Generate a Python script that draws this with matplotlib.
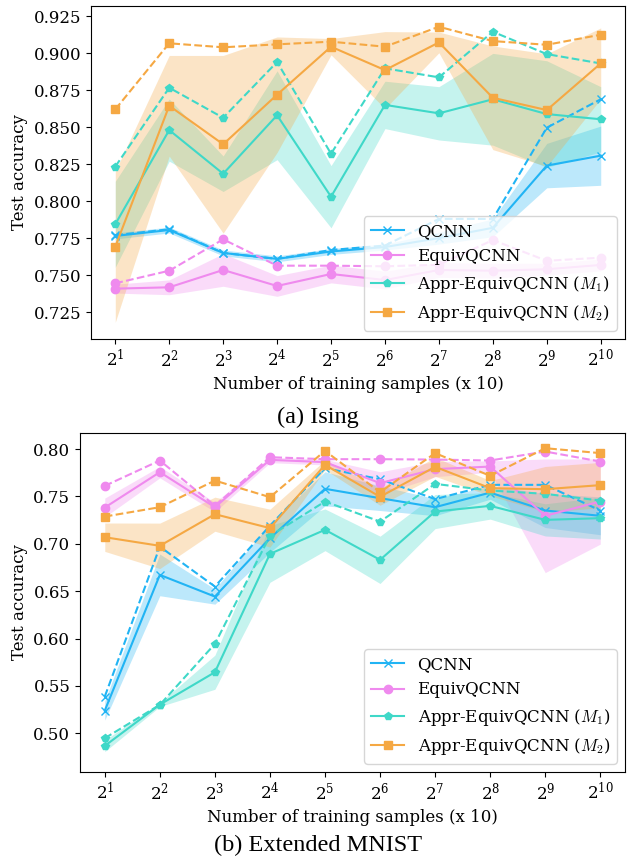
import numpy as np
import matplotlib.pyplot as plt

plt.rcParams['font.family'] = 'DejaVu Serif'
plt.rcParams['mathtext.fontset'] = 'cm'

# x axis: number of training samples / 10
x = [2, 4, 8, 16, 32, 64, 128, 256, 512, 1024]
labels = ['QCNN', 'EquivQCNN', r'Appr-EquivQCNN ($M_1$)', r'Appr-EquivQCNN ($M_2$)']
colors = ['#21b4f4', '#ef8aee', '#3fd8c8', '#f5a843']
markers = ['x', 'o', 'p', 's']

# (a) Ising: mean, std and best run
ising_mean = [
    [0.7765, 0.7805, 0.765, 0.761, 0.766, 0.769, 0.775, 0.782, 0.824, 0.8307],
    [0.7409, 0.7418, 0.7535, 0.7427, 0.7508, 0.7467, 0.7535, 0.753, 0.754, 0.7569],
    [0.7844, 0.848, 0.8185, 0.858, 0.803, 0.865, 0.8593, 0.8688, 0.8588, 0.8553],
    [0.7692, 0.8644, 0.8384, 0.8719, 0.9043, 0.8885, 0.9072, 0.8698, 0.8615, 0.893],
]
ising_std = [
    [0.002, 0.002, 0.002, 0.002, 0.002, 0.002, 0.004, 0.006, 0.015, 0.02],
    [0.003, 0.005, 0.011, 0.007, 0.006, 0.006, 0.005, 0.005, 0.004, 0.004],
    [0.029, 0.021, 0.012, 0.03, 0.021, 0.016, 0.018, 0.031, 0.036, 0.022],
    [0.051, 0.034, 0.06, 0.039, 0.0055, 0.026, 0.007, 0.035, 0.038, 0.024],
]
ising_best = [
    [0.777, 0.781, 0.765, 0.761, 0.767, 0.770, 0.788, 0.788, 0.8496, 0.8688],
    [0.7445, 0.753, 0.7742, 0.7564, 0.7564, 0.756, 0.757, 0.7737, 0.7597, 0.7618],
    [0.8233, 0.8766, 0.8563, 0.894, 0.832, 0.8897, 0.8836, 0.9144, 0.8993, 0.893],
    [0.862, 0.9066, 0.9039, 0.9059, 0.9077, 0.9043, 0.9178, 0.9081, 0.9056, 0.9124],
]

# (b) Extended MNIST
mnist_mean = [
    [0.5239, 0.6672, 0.6443, 0.706, 0.7581, 0.7482, 0.7387, 0.7541, 0.7352, 0.7296],
    [0.7383, 0.7757, 0.7387, 0.7887, 0.7863, 0.7641, 0.7789, 0.7816, 0.7296, 0.7447],
    [0.4866, 0.5302, 0.5644, 0.6894, 0.7148, 0.6831, 0.7341, 0.7401, 0.7253, 0.7271],
    [0.707, 0.6979, 0.7313, 0.7166, 0.7834, 0.7497, 0.7813, 0.7588, 0.7577, 0.762],
]
mnist_std = [
    [0.01, 0.022, 0.008, 0.015, 0.018, 0.013, 0.009, 0.007, 0.018, 0.02],
    [0.01, 0.006, 0.005, 0.003, 0.003, 0.012, 0.008, 0.006, 0.06, 0.045],
    [0.006, 0.002, 0.018, 0.03, 0.022, 0.025, 0.018, 0.014, 0.017, 0.022],
    [0.015, 0.024, 0.018, 0.02, 0.005, 0.009, 0.01, 0.008, 0.024, 0.024],
]
mnist_best = [
    [0.5387, 0.697, 0.6549, 0.7192, 0.7799, 0.7683, 0.7472, 0.7623, 0.7623, 0.7352],
    [0.7612, 0.788, 0.7401, 0.7915, 0.7894, 0.7894, 0.789, 0.788, 0.7975, 0.7869],
    [0.4947, 0.530, 0.5943, 0.7084, 0.7447, 0.7235, 0.7633, 0.7563, 0.7528, 0.7457],
    [0.7288, 0.7387, 0.7668, 0.7493, 0.7982, 0.7545, 0.7958, 0.7718, 0.801, 0.7958],
]

fig = plt.figure(figsize=(6.36, 8.56), dpi=100)
ax1 = fig.add_axes([0.1431, 0.6040, 0.8396, 0.389])
ax2 = fig.add_axes([0.1258, 0.0981, 0.857, 0.396])


def draw(ax, mean, std, best):
    for i in range(4):
        m = np.array(mean[i])
        s = np.array(std[i])
        ax.fill_between(x, m - s, m + s, color=colors[i], alpha=0.3, lw=0)
        ax.plot(x, m, color=colors[i], marker=markers[i], ms=6, lw=1.5, label=labels[i])
        ax.plot(x, best[i], color=colors[i], marker=markers[i], ms=6, lw=1.5, ls='--')
    ax.set_xscale('log', base=2)
    ax.set_xticks(x)
    ax.set_xlabel('Number of training samples (x 10)', fontsize=12)
    ax.set_ylabel('Test accuracy', fontsize=12)
    ax.tick_params(labelsize=12)
    ax.legend(loc='lower right', fontsize=12)


draw(ax1, ising_mean, ising_std, ising_best)
ax1.set_ylim(0.7069, 0.9318)
ax1.set_yticks(np.arange(0.725, 0.926, 0.025))

draw(ax2, mnist_mean, mnist_std, mnist_best)
ax2.set_ylim(0.459, 0.817)
ax2.set_yticks(np.arange(0.50, 0.81, 0.05))

fig.text(318 / 636, 1 - 423 / 856, '(a) Ising', ha='center', va='baseline',
         family='Liberation Serif', fontsize=17.5)
fig.text(318 / 636, 1 - 851 / 856, '(b) Extended MNIST', ha='center', va='baseline',
         family='Liberation Serif', fontsize=17.5)

fig.savefig('out.png', dpi=100)
